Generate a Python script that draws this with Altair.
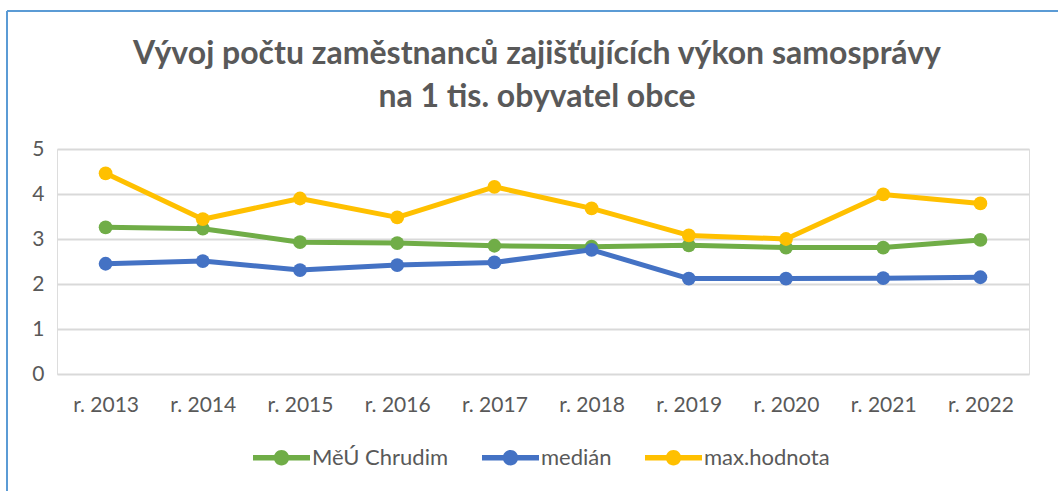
import altair as alt
import pandas as pd

years = ["r. 2013", "r. 2014", "r. 2015", "r. 2016", "r. 2017",
         "r. 2018", "r. 2019", "r. 2020", "r. 2021", "r. 2022"]
series_names = ["MěÚ Chrudim", "medián", "max.hodnota"]
chrudim = [3.26, 3.23, 2.93, 2.91, 2.85, 2.83, 2.86, 2.81, 2.81, 2.98]
median = [2.45, 2.51, 2.31, 2.42, 2.48, 2.76, 2.12, 2.12, 2.13, 2.15]
maxval = [4.46, 3.44, 3.90, 3.48, 4.16, 3.68, 3.08, 3.00, 3.99, 3.79]
colors = ["#70AD47", "#4472C4", "#FFC000"]

rows = []
for name, vals in zip(series_names, [chrudim, median, maxval]):
    for y, v in zip(years, vals):
        rows.append({"rok": y, "serie": name, "hodnota": v})
df = pd.DataFrame(rows)

FONT = "Lato"
TXT = "#595959"

x_enc = alt.X("rok:N", sort=years, scale=alt.Scale(type="point", padding=0.5),
              axis=alt.Axis(title=None, labelAngle=0, labelFontSize=21, labelColor=TXT,
                            labelFont=FONT, domain=False, ticks=False, labelPadding=20,
                            grid=False))
y_enc = alt.Y("hodnota:Q", scale=alt.Scale(domain=[0, 5], nice=False),
              axis=alt.Axis(title=None, values=[0, 1, 2, 3, 4, 5], labelFontSize=21,
                            labelColor=TXT, labelFont=FONT, domain=False, ticks=False,
                            labelPadding=13, gridColor="#D9D9D9", gridWidth=2))

color_scale = alt.Scale(domain=series_names, range=colors)
sym_path = ("M-1,-0.1 L1,-0.1 L1,0.1 L-1,0.1 Z "
            "M0.27,0 A0.27,0.27 0 1,1 -0.27,0 A0.27,0.27 0 1,1 0.27,0 Z")
leg = alt.Legend(title=None, orient="none", direction="horizontal",
                 legendX=196, legendY=280,
                 symbolType=sym_path, symbolSize=3249, symbolStrokeWidth=0,
                 labelFontSize=22, labelColor=TXT, labelFont=FONT,
                 columnPadding=33, labelOffset=2)

points = alt.Chart(df).mark_circle(size=190, opacity=1).encode(
    x=x_enc, y=y_enc,
    color=alt.Color("serie:N", scale=color_scale, legend=leg),
)

lines = alt.Chart(df).mark_line(strokeWidth=5, strokeCap="round", strokeJoin="round").encode(
    x=x_enc, y=y_enc,
    color=alt.Color("serie:N", scale=color_scale, legend=leg),
)

border_top = alt.Chart(df).mark_rule(color="#5B9BD5", strokeWidth=2).encode(
    x=alt.value(-50), x2=alt.value(1010), y=alt.value(-138))
border_left = alt.Chart(df).mark_rule(color="#5B9BD5", strokeWidth=2).encode(
    x=alt.value(-50), y=alt.value(-138), y2=alt.value(350))

chart = alt.layer(border_top, border_left, lines, points).properties(
    width=972, height=225,
    title=alt.Title(["Vývoj počtu zaměstnanců zajišťujících výkon samosprávy",
                     "na 1 tis. obyvatel obce"],
                    fontSize=32, font=FONT, fontWeight="bold", color=TXT,
                    anchor="middle", frame="group", offset=35, dy=139,
                    lineHeight=43, dx=-6),
    autosize=alt.AutoSizeParams(type="none"),
    padding={"left": 57, "top": 149, "right": 29, "bottom": 117},
).configure_view(stroke=None).configure(background="white")

chart.save("out.html", embed_options={"renderer": "svg", "actions": False})
